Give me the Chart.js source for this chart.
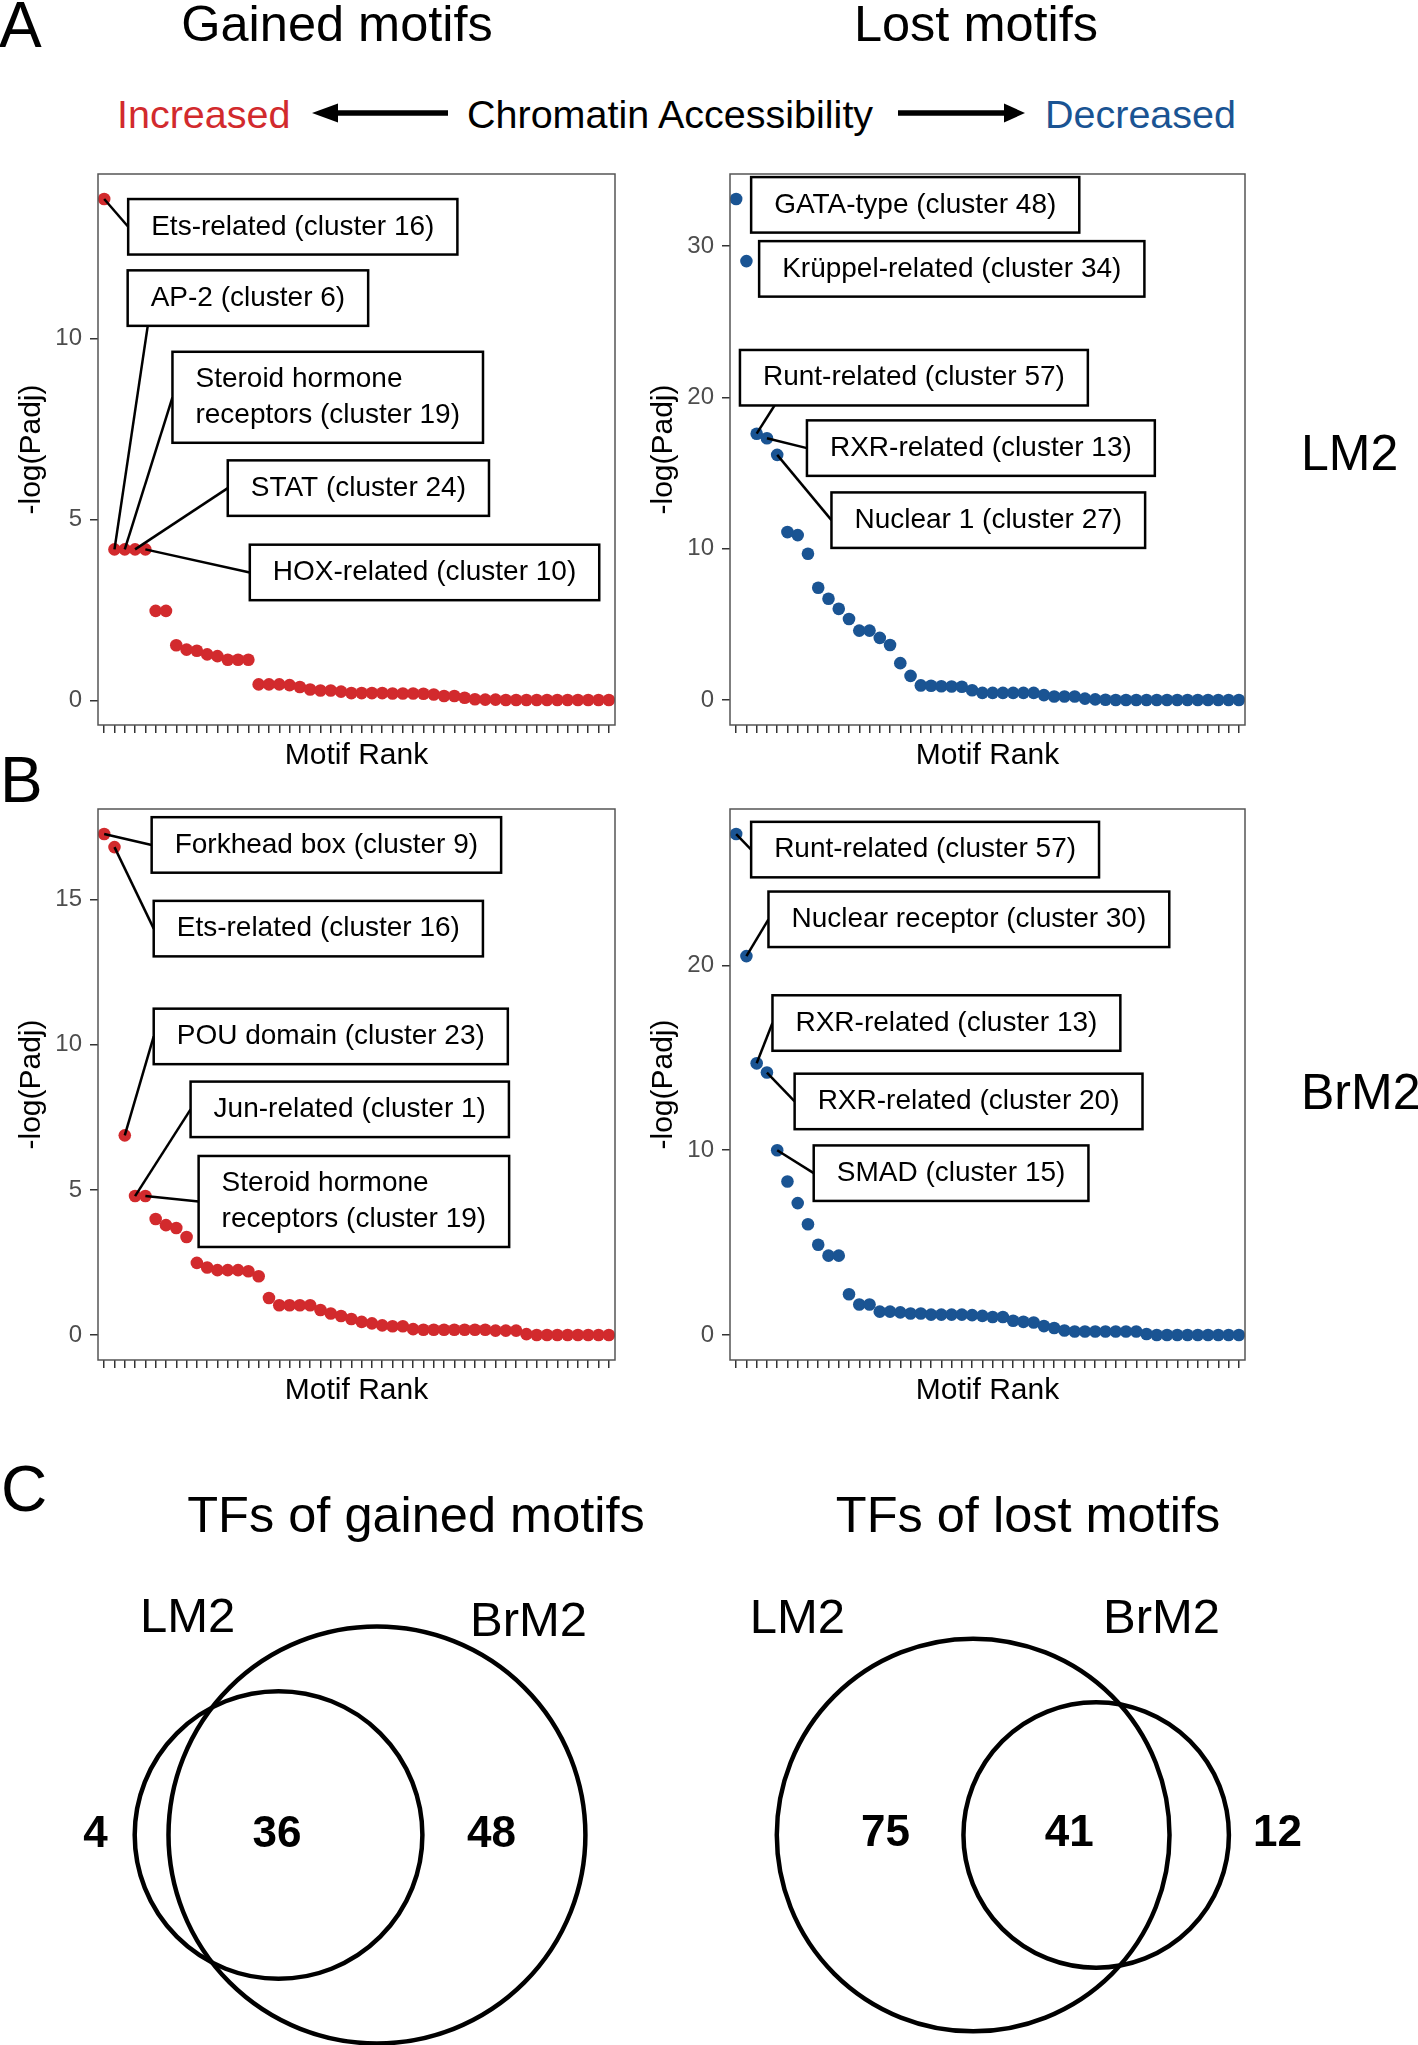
<!DOCTYPE html>
<html><head><meta charset="utf-8">
<script src="https://cdn.jsdelivr.net/npm/chart.js@4.4.1/dist/chart.umd.min.js"></script>
<style>
html,body{margin:0;padding:0;background:#fff;}
#page{position:relative;width:1418px;height:2045px;overflow:hidden;background:#fff;font-family:"Liberation Sans",Arial,Helvetica,sans-serif;}
.t{position:absolute;white-space:nowrap;line-height:1;}
canvas{position:absolute;}
</style></head><body><div id="page">
<svg style="position:absolute;left:0;top:0" width="1418" height="160">
  <line x1="336" y1="113" x2="448" y2="113" stroke="#000" stroke-width="5.5"/>
  <polygon points="312,113 338,103.5 338,122.5" fill="#000"/>
  <line x1="898" y1="113" x2="1006" y2="113" stroke="#000" stroke-width="5.5"/>
  <polygon points="1025,113 1004,103.5 1004,122.5" fill="#000"/>
</svg>
</div>
<script>
// ---------------- DATA ----------------
const motifRanks = [1,2,3,4,5,6,7,8,9,10,11,12,13,14,15,16,17,18,19,20,21,22,23,24,25,26,27,28,29,30,31,32,33,34,35,36,37,38,39,40,41,42,43,44,45,46,47,48,49,50];

const gainedLM2 = [13.85,4.17,4.17,4.17,4.17,2.47,2.47,1.52,1.40,1.37,
  1.27,1.22,1.12,1.12,1.12,0.44,0.44,0.44,0.42,0.37,
  0.30,0.27,0.27,0.24,0.20,0.20,0.20,0.20,0.19,0.19,
  0.19,0.18,0.16,0.12,0.12,0.07,0.03,0.02,0.02,0.01,
  0.01,0.01,0.01,0.01,0.01,0.01,0.01,0.01,0.01,0.01];
const lostLM2 = [33.1,29.0,17.6,17.3,16.2,11.1,10.9,9.67,7.42,6.70,
  6.03,5.36,4.59,4.59,4.11,3.64,2.44,1.60,0.97,0.95,
  0.92,0.90,0.88,0.65,0.48,0.48,0.48,0.48,0.48,0.48,
  0.33,0.24,0.24,0.24,0.10,0.05,0.02,0.01,0.01,0.01,
  0.01,0.01,0.01,0.01,0.01,0.01,0.01,0.01,0.01,0.01];
const gainedBrM2 = [17.25,16.8,6.88,4.79,4.79,4.0,3.79,3.69,3.38,2.49,
  2.33,2.24,2.24,2.24,2.20,2.03,1.28,1.03,1.03,1.03,
  1.03,0.87,0.75,0.66,0.56,0.46,0.41,0.34,0.31,0.31,
  0.21,0.19,0.19,0.19,0.19,0.19,0.19,0.19,0.16,0.16,
  0.16,0.04,0.01,0.01,0.01,0.01,0.01,0.01,0.01,0.01];
const lostBrM2 = [27.1,20.5,14.7,14.2,10.0,8.31,7.14,6.0,4.89,4.30,
  4.30,2.21,1.66,1.66,1.27,1.27,1.23,1.17,1.17,1.11,
  1.11,1.11,1.11,1.08,1.04,0.98,0.98,0.78,0.72,0.68,
  0.49,0.39,0.25,0.20,0.20,0.20,0.20,0.20,0.20,0.20,
  0.06,0.01,0.01,0.01,0.01,0.01,0.01,0.01,0.01,0.01];

const gainedLM2Labels = ['Ets-related (cluster 16)','AP-2 (cluster 6)','Steroid hormone\nreceptors (cluster 19)','STAT (cluster 24)','HOX-related (cluster 10)'];
const gainedLM2LabelRanks = [1,2,3,4,5];
const lostLM2Labels = ['GATA-type (cluster 48)','Krüppel-related (cluster 34)','Runt-related (cluster 57)','RXR-related (cluster 13)','Nuclear 1 (cluster 27)'];
const lostLM2LabelRanks = [1,2,3,4,5];
const gainedBrM2Labels = ['Forkhead box (cluster 9)','Ets-related (cluster 16)','POU domain (cluster 23)','Jun-related (cluster 1)','Steroid hormone\nreceptors (cluster 19)'];
const gainedBrM2LabelRanks = [1,2,3,4,5];
const lostBrM2Labels = ['Runt-related (cluster 57)','Nuclear receptor (cluster 30)','RXR-related (cluster 13)','RXR-related (cluster 20)','SMAD (cluster 15)'];
const lostBrM2LabelRanks = [1,2,3,4,5];

const yTicksGainedLM2 = [0,5,10];
const yTicksLostLM2 = [0,10,20,30];
const yTicksGainedBrM2 = [0,5,10,15];
const yTicksLostBrM2 = [0,10,20];

const vennSetNames = ['LM2','BrM2'];
const vennGainedCounts = [4,36,48];   // LM2 only, both, BrM2 only
const vennLostCounts = [75,41,12];

// ---------------- LAYOUT / STYLE ----------------
const FONT = '"Liberation Sans", Arial, Helvetica, sans-serif';
const RED = '#d22a2d', BLUE = '#1a5493';
const BOX_PAD_X = 23, BOX_PAD_Y = 10, LINE_H = 35.5;

const gainedLM2Layout = [{x:3.33,y:13.85,end:'left'},{x:3.28,y:11.88,end:{bottom:5.23}},{x:7.63,y:9.63,end:'left'},{x:13.0,y:6.63,end:'left'},{x:15.14,y:4.30,end:'left'}];
const lostLM2Layout = [{x:2.46,y:34.55,end:null},{x:3.24,y:30.32,end:null},{x:1.37,y:23.13,end:{bottom:4.74}},{x:7.9,y:18.48,end:'left'},{x:10.29,y:13.72,end:'left'}];
const gainedBrM2Layout = [{x:5.61,y:17.83,end:'left'},{x:5.81,y:14.95,end:'left'},{x:5.81,y:11.24,end:'left'},{x:9.39,y:8.73,end:'left'},{x:10.17,y:6.17,end:'left'}];
const lostBrM2Layout = [{x:2.46,y:27.76,end:'left'},{x:4.15,y:23.99,end:'left'},{x:4.54,y:18.38,end:'left'},{x:6.7,y:14.14,end:'left'},{x:8.56,y:10.26,end:'left'}];

const page = document.getElementById('page');

function addText(txt, x, baseline, size, opt) {
  opt = opt || {};
  const d = document.createElement('div');
  d.className = 't';
  d.textContent = txt;
  d.style.fontSize = size + 'px';
  d.style.top = (baseline - 0.8465 * size) + 'px';
  d.style.left = x + 'px';
  d.style.color = opt.color || '#000';
  d.style.fontWeight = opt.weight || 'normal';
  if (opt.align === 'center') d.style.transform = 'translateX(-50%)';
  page.appendChild(d);
}

addText('A', -1, 47, 64);
addText('B', 0, 802, 64);
addText('C', 1, 1511, 64);
addText('Gained motifs', 337, 42, 50.5, {align:'center'});
addText('Lost motifs', 976, 42, 50.5, {align:'center'});
addText('Increased', 117, 128, 39.5, {color:RED});
addText('Chromatin Accessibility', 467, 128, 39.5);
addText('Decreased', 1045, 128, 39.5, {color:BLUE});
addText('LM2', 1301, 470, 50);
addText('BrM2', 1301, 1109, 50);
addText('TFs of gained motifs', 416, 1533, 50.5, {align:'center'});
addText('TFs of lost motifs', 1028, 1533, 50.5, {align:'center'});

function makeCanvas(left, top, w, h) {
  const c = document.createElement('canvas');
  c.width = w; c.height = h;
  c.style.left = left + 'px'; c.style.top = top + 'px';
  c.style.width = w + 'px'; c.style.height = h + 'px';
  page.appendChild(c);
  return c;
}

const framePlugin = {
  id: 'frame',
  afterDatasetsDraw(chart) {
    const {ctx, chartArea: a} = chart;
    ctx.save();
    ctx.strokeStyle = '#555';
    ctx.lineWidth = 1.5;
    ctx.strokeRect(a.left, a.top, a.right - a.left, a.bottom - a.top);
    ctx.restore();
  }
};

function repelPlugin(values, labels, ranks, layout) {
  return {
    id: 'repel',
    afterDatasetsDraw(chart) {
      const {ctx, scales: {x, y}} = chart;
      ctx.save();
      ctx.font = '28px ' + FONT;
      labels.forEach((lab, i) => {
        const L = layout[i];
        const lines = lab.split('\n');
        const w = Math.max(...lines.map(l => ctx.measureText(l).width)) + 2 * BOX_PAD_X;
        const h = 2 * BOX_PAD_Y + lines.length * LINE_H;
        const bx = x.getPixelForValue(L.x), by = y.getPixelForValue(L.y);
        const px = x.getPixelForValue(ranks[i]), py = y.getPixelForValue(values[ranks[i] - 1]);
        if (L.end) {
          let ex, ey;
          if (L.end === 'left') { ex = bx; ey = by + h / 2; }
          else { ex = x.getPixelForValue(L.end.bottom); ey = by + h; }
          ctx.beginPath(); ctx.moveTo(px, py); ctx.lineTo(ex, ey);
          ctx.lineWidth = 2.5; ctx.strokeStyle = '#000'; ctx.stroke();
        }
        ctx.fillStyle = '#fff'; ctx.fillRect(bx, by, w, h);
        ctx.lineWidth = 2.5; ctx.strokeStyle = '#000'; ctx.strokeRect(bx, by, w, h);
        ctx.fillStyle = '#000'; ctx.textBaseline = 'middle'; ctx.textAlign = 'left';
        lines.forEach((l, j) => ctx.fillText(l, bx + BOX_PAD_X, by + BOX_PAD_Y + LINE_H * (j + 0.5)));
      });
      ctx.restore();
    }
  };
}

function makeRankChart(canvas, padRight, values, color, yTicks, labels, ranks, layout) {
  const vMax = Math.max(...values), vMin = Math.min(...values);
  const ext = 0.05 * (vMax - vMin);
  return new Chart(canvas, {
    type: 'scatter',
    data: { datasets: [{
      data: motifRanks.map((r, i) => ({x: r, y: values[i]})),
      backgroundColor: color, borderWidth: 0, pointRadius: 6.3, pointHoverRadius: 6.3
    }]},
    options: {
      responsive: false, animation: false, events: [], devicePixelRatio: 1,
      layout: { padding: {top: 14, right: padRight, left: 0, bottom: 0} },
      plugins: { legend: {display: false}, tooltip: {enabled: false} },
      scales: {
        x: {
          type: 'linear', min: 0.4, max: 50.6,
          afterBuildTicks: s => { s.ticks = motifRanks.map(v => ({value: v})); },
          ticks: { callback: () => '', autoSkip: false, padding: 0, maxRotation: 0 },
          grid: { drawOnChartArea: false, drawTicks: true, tickLength: 8, color: '#333', lineWidth: 1.5 },
          border: { display: false },
          title: { display: true, text: 'Motif Rank', color: '#000', font: {size: 30, family: FONT}, padding: {top: 0, bottom: 16} },
          afterFit: s => { s.height = 65; s.paddingLeft = 0; s.paddingRight = 0; s.paddingTop = 0; s.paddingBottom = 0; }
        },
        y: {
          type: 'linear', min: vMin - ext, max: vMax + ext,
          afterBuildTicks: s => { s.ticks = yTicks.map(v => ({value: v})); },
          ticks: { color: '#4d4d4d', font: {size: 24, family: FONT}, padding: 8 },
          grid: { drawOnChartArea: false, drawTicks: true, tickLength: 8, color: '#333', lineWidth: 1.5 },
          border: { display: false },
          title: { display: true, text: '-log(Padj)', color: '#000', font: {size: 30, family: FONT}, padding: {top: 14, bottom: 0} },
          afterFit: s => { s.width = 98; s.paddingTop = 0; s.paddingBottom = 0; s.paddingLeft = 0; s.paddingRight = 0; }
        }
      }
    },
    plugins: [framePlugin, repelPlugin(values, labels, ranks, layout)]
  });
}

makeRankChart(makeCanvas(0, 160, 640, 630), 25, gainedLM2, RED, yTicksGainedLM2, gainedLM2Labels, gainedLM2LabelRanks, gainedLM2Layout);
makeRankChart(makeCanvas(632, 160, 640, 630), 27, lostLM2, BLUE, yTicksLostLM2, lostLM2Labels, lostLM2LabelRanks, lostLM2Layout);
makeRankChart(makeCanvas(0, 795, 640, 630), 25, gainedBrM2, RED, yTicksGainedBrM2, gainedBrM2Labels, gainedBrM2LabelRanks, gainedBrM2Layout);
makeRankChart(makeCanvas(632, 795, 640, 630), 27, lostBrM2, BLUE, yTicksLostBrM2, lostBrM2Labels, lostBrM2LabelRanks, lostBrM2Layout);

// ---------------- VENN ----------------
function lensArea(r1, r2, d) {
  if (d >= r1 + r2) return 0;
  if (d <= Math.abs(r1 - r2)) return Math.PI * Math.min(r1, r2) ** 2;
  const a = r1 * r1 * Math.acos((d * d + r1 * r1 - r2 * r2) / (2 * d * r1));
  const b = r2 * r2 * Math.acos((d * d + r2 * r2 - r1 * r1) / (2 * d * r2));
  const c = 0.5 * Math.sqrt((-d + r1 + r2) * (d + r1 - r2) * (d - r1 + r2) * (d + r1 + r2));
  return a + b - c;
}
function solveD(r1, r2, target) {
  let lo = Math.abs(r1 - r2), hi = r1 + r2;
  for (let k = 0; k < 100; k++) {
    const m = (lo + hi) / 2;
    if (lensArea(r1, r2, m) > target) lo = m; else hi = m;
  }
  return (lo + hi) / 2;
}

function vennTextPlugin(names, counts, L) {
  return {
    id: 'vennText',
    afterDatasetsDraw(chart) {
      const {ctx, scales: {x, y}} = chart;
      ctx.save();
      ctx.fillStyle = '#000'; ctx.textAlign = 'center';
      ctx.font = '49px ' + FONT; ctx.textBaseline = 'alphabetic';
      names.forEach((n, i) => ctx.fillText(n, x.getPixelForValue(L.names[i][0]), y.getPixelForValue(L.names[i][1])));
      ctx.font = 'bold 44px ' + FONT; ctx.textBaseline = 'middle';
      counts.forEach((c, i) => ctx.fillText(String(c), x.getPixelForValue(L.counts[i][0]), y.getPixelForValue(L.counts[i][1])));
      ctx.restore();
    }
  };
}

function makeVenn(L, counts) {
  const canvas = makeCanvas(L.left, L.top, L.w, L.h);
  const rA = Math.sqrt((counts[0] + counts[1]) / Math.PI);
  const rB = Math.sqrt((counts[1] + counts[2]) / Math.PI);
  const d = solveD(rA, rB, counts[1]);
  const x0 = Math.min(-rA, d - rB), x1 = Math.max(rA, d + rB);
  const ppu = L.bboxWidthPx / (x1 - x0);
  const xMin = x0 - L.bboxLeftPx / ppu, xMax = xMin + L.w / ppu;
  const yMax = L.centerYPx / ppu, yMin = yMax - L.h / ppu;
  const rad = c => { if (!c.raw) return 0; const s = c.chart.scales.x; return s.getPixelForValue(c.raw.r) - s.getPixelForValue(0); };
  return new Chart(canvas, {
    type: 'scatter',
    data: { datasets: [{
      data: [{x: 0, y: 0, r: rA}, {x: d, y: 0, r: rB}],
      pointRadius: rad, pointHoverRadius: rad,
      pointBackgroundColor: 'rgba(0,0,0,0)', pointBorderColor: '#000', pointBorderWidth: 4.5,
      clip: false
    }]},
    options: {
      responsive: false, animation: false, events: [], devicePixelRatio: 1,
      layout: { padding: 0 },
      plugins: { legend: {display: false}, tooltip: {enabled: false} },
      scales: {
        x: { type: 'linear', display: false, min: xMin, max: xMax },
        y: { type: 'linear', display: false, min: yMin, max: yMax }
      }
    },
    plugins: [vennTextPlugin(vennSetNames, counts, L)]
  });
}

makeVenn({left: 0, top: 1540, w: 709, h: 505, bboxLeftPx: 134.7, bboxWidthPx: 450.7, centerYPx: 295,
  names: [[-2.255, 5.03], [6.2, 4.93]], counts: [[-4.54, 0], [-0.04, 0], [5.28, 0]]}, vennGainedCounts);
makeVenn({left: 709, top: 1540, w: 709, h: 505, bboxLeftPx: 67.8, bboxWidthPx: 452.1, centerYPx: 295,
  names: [[-5.44, 6.26], [5.83, 6.26]], counts: [[-2.71, 0.05], [2.97, 0.05], [9.42, 0.05]]}, vennLostCounts);
</script>
</body></html>
